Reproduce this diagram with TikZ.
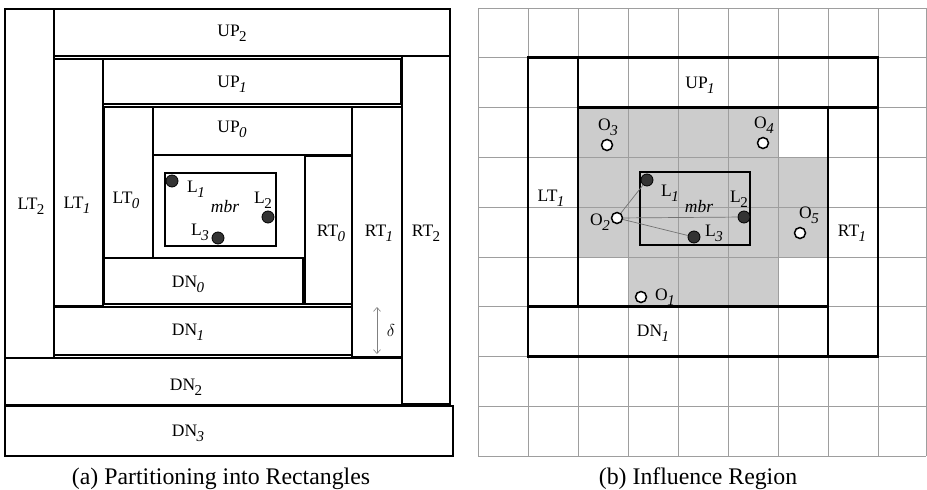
\documentclass[tikz,border=0pt]{standalone}
\usepackage{fontspec}
\setmainfont{Liberation Serif}
\usetikzlibrary{arrows.meta}
\definecolor{shadec}{gray}{0.80}
\definecolor{gridc}{gray}{0.62}
\definecolor{linkc}{gray}{0.45}
\newcommand\subi[1]{\kern-0.6pt\raisebox{-4.8pt}{\fontsize{15}{15}\selectfont\textit{#1}}}
\newcommand\subu[1]{\kern-0.6pt\raisebox{-4.8pt}{\fontsize{15}{15}\selectfont #1}}
\tikzset{
  boxa/.style={draw, line width=2.7pt},
  boxb/.style={draw, line width=2.9pt},
  mbrbox/.style={draw, line width=2.2pt},
  lab/.style={font=\fontsize{17.5}{17.5}\selectfont, inner sep=0pt},
  capt/.style={font=\fontsize{23.8}{23.8}\selectfont, anchor=base, inner sep=0pt},
  fdot/.style={circle, fill=black!80, draw=black, line width=0.8pt, minimum size=12pt, inner sep=0pt},
  odot/.style={circle, fill=white, draw=black, line width=1.5pt, minimum size=11pt, inner sep=0pt},
  gline/.style={draw=gridc, line width=0.8pt},
  link/.style={draw=linkc, line width=0.7pt},
  darrow/.style={draw=gray, line width=0.6pt, {Straight Barb[length=4pt,width=7pt]}-{Straight Barb[length=4pt,width=7pt]}}
}
\begin{document}
\begin{tikzpicture}[x=1pt,y=-1pt]
\useasboundingbox (0,0) rectangle (927,490);
% ---------------- panel (a)
\draw[boxa] (54,9) rectangle (450,56);
\draw[boxa] (5,9) rectangle (54,358);
\draw[boxa] (103,59) rectangle (401,104);
\draw[boxa] (54,59) rectangle (103,306);
\draw[boxa] (402,56) rectangle (450,404);
\draw[boxa] (153,107) rectangle (352,155);
\draw[boxa] (104,107) rectangle (153,258);
\draw[boxa] (352,107) rectangle (402,357);
\draw[boxa] (305,156) rectangle (352,304);
\draw[boxa] (104,258) rectangle (303,304);
\draw[boxa] (54,307) rectangle (352,355);
\draw[boxa] (5,358) rectangle (402,405);
\draw[boxa] (5,406) rectangle (453,456);
\draw[mbrbox] (165,173) rectangle (276,246);

\node[lab] (up2) at (232,33) {UP\subu{2}};
\node[lab] (up1) at (232,84) {UP\subi{1}};
\node[lab] (up0) at (232,129) {UP\subi{0}};
\node[lab] (lt2) at (31,206) {LT\subu{2}};
\node[lab] (lt1) at (77,205) {LT\subi{1}};
\node[lab] (lt0) at (126,200) {LT\subi{0}};
\node[lab] (rt0) at (331,233) {RT\subi{0}};
\node[lab] (rt1) at (379,233) {RT\subi{1}};
\node[lab] (rt2) at (426,233) {RT\subu{2}};
\node[lab] (dn0) at (188,284) {DN\subi{0}};
\node[lab] (dn1) at (188,332) {DN\subi{1}};
\node[lab] (dn2) at (186,387) {DN\subu{2}};
\node[lab] (dn3) at (188,433) {DN\subi{3}};
\node[lab] (mbra) at (225,207) {\textit{mbr}};
\node[lab] (l1al) at (196,189) {L\subi{1}};
\node[lab] (l2al) at (263,200) {L\subu{2}};
\node[lab] (l3al) at (200,232) {L\subi{3}};
\node[fdot] (L1a) at (172,181) {};
\node[fdot] (L2a) at (268,217) {};
\node[fdot] (L3a) at (218,238) {};
\coordinate (dtop) at (377,307);
\coordinate (dbot) at (377,354);
\draw[darrow] (dtop) -- (dbot);
\node[lab] (delta) at (391,330) {$\delta$};
\node[capt] (capa) at (221,484) {(a) Partitioning into Rectangles};

% ---------------- panel (b)
\fill[shadec] (578,107.6) -- (778,107.6) -- (778,157.4) -- (828,157.4) -- (828,257)
  -- (778,257) -- (778,306.8) -- (628,306.8) -- (628,257) -- (578,257) -- cycle;
\foreach \gx in {478,528,578,628,678,728,778,828,878,926.4}
  \draw[gline] (\gx,8) -- (\gx,456.2);
\foreach \gy in {8,57.8,107.6,157.4,207.2,257,306.8,356.6,406.4,456.2}
  \draw[gline] (478,\gy) -- (926.4,\gy);
\draw[boxb] (528,57.8) rectangle (578,306.8);
\draw[boxb] (578,57.8) rectangle (878,107.6);
\draw[boxb] (828,107.6) rectangle (878,356.6);
\draw[boxb] (528,306.8) rectangle (828,356.6);
\draw[boxb] (640,172) rectangle (750,245);

\node[lab] (up1b) at (700,85) {UP\subi{1}};
\node[lab] (lt1b) at (551,198) {LT\subi{1}};
\node[lab] (rt1b) at (852,233) {RT\subi{1}};
\node[lab] (dn1b) at (653,333) {DN\subi{1}};
\node[lab] (mbrb) at (699,207) {\textit{mbr}};
\node[lab] (l1bl) at (670,193) {L\subi{1}};
\node[lab] (l2bl) at (739,199) {L\subu{2}};
\node[lab] (l3bl) at (714,233) {L\subi{3}};

\node[fdot] (L1b) at (647,180) {};
\node[fdot] (L2b) at (744,217) {};
\node[fdot] (L3b) at (694,237) {};
\node[odot] (O2) at (617,218) {};
\node[odot] (O1) at (641,297) {};
\node[odot] (O3) at (607,145) {};
\node[odot] (O4) at (763,143) {};
\node[odot] (O5) at (800,233) {};
\draw[link] (O2) -- (L1b);
\draw[link] (O2) -- (L2b);
\draw[link] (O2) -- (L3b);

\node[lab] (o1l) at (665,297) {O\subi{1}};
\node[lab] (o2l) at (600,222) {O\subi{2}};
\node[lab] (o3l) at (608,127) {O\subi{3}};
\node[lab] (o4l) at (764,125) {O\subi{4}};
\node[lab] (o5l) at (809,215) {O\subi{5}};
\node[capt] (capb) at (698,484) {(b) Influence Region};
\end{tikzpicture}
\end{document}
